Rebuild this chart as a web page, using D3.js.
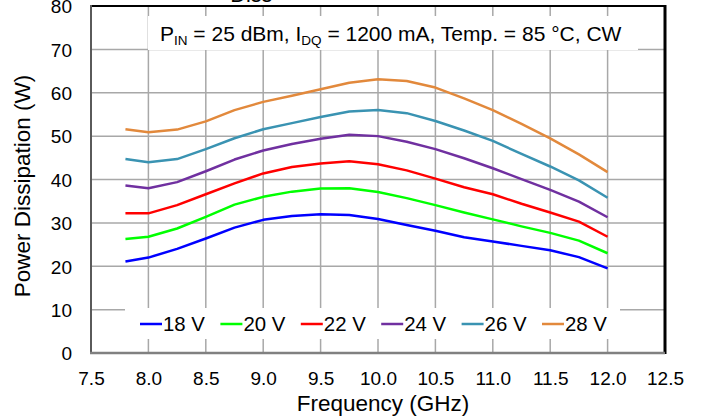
<!DOCTYPE html>
<html><head><meta charset="utf-8">
<script src="https://cdn.jsdelivr.net/npm/d3@7"></script>
<style>
html,body{margin:0;padding:0;background:#fff;}
svg{display:block;font-family:"Liberation Sans",Arial,sans-serif;}
</style></head>
<body><svg id="c" width="703" height="419"></svg>
<script>
const freqs = [7.8, 8.0, 8.25, 8.5, 8.75, 9.0, 9.25, 9.5, 9.75, 10.0, 10.25, 10.5, 10.75, 11.0, 11.25, 11.5, 11.75, 12.0];
const v18 = [21.1, 22.0, 24.0, 26.4, 28.9, 30.7, 31.6, 32.0, 31.8, 30.9, 29.5, 28.2, 26.7, 25.7, 24.7, 23.7, 22.1, 19.5];
const v20 = [26.3, 26.8, 28.7, 31.4, 34.2, 36.0, 37.2, 37.9, 38.0, 37.1, 35.7, 34.1, 32.4, 30.8, 29.2, 27.7, 25.9, 23.0];
const v22 = [32.2, 32.2, 34.1, 36.6, 39.1, 41.4, 42.9, 43.7, 44.2, 43.5, 42.1, 40.2, 38.2, 36.6, 34.4, 32.4, 30.3, 26.8];
const v24 = [38.6, 38.0, 39.4, 41.9, 44.6, 46.7, 48.2, 49.4, 50.3, 50.0, 48.7, 47.0, 44.9, 42.6, 40.1, 37.6, 34.9, 31.3];
const v26 = [44.7, 44.0, 44.7, 47.0, 49.5, 51.6, 53.0, 54.4, 55.7, 56.0, 55.3, 53.5, 51.3, 48.9, 45.9, 43.0, 39.8, 35.8];
const v28 = [51.6, 50.9, 51.5, 53.4, 56.0, 57.9, 59.3, 60.8, 62.3, 63.1, 62.7, 61.2, 58.7, 56.0, 52.8, 49.5, 45.8, 41.7];
const seriesNames = ["18 V", "20 V", "22 V", "24 V", "26 V", "28 V"];
const seriesValues = [v18, v20, v22, v24, v26, v28];
const seriesColors = ["#0000FF", "#00FF00", "#FF0000", "#7030A0", "#3A93B2", "#E2893C"];
const xTicks = [7.5, 8.0, 8.5, 9.0, 9.5, 10.0, 10.5, 11.0, 11.5, 12.0, 12.5];
const yTicks = [0, 10, 20, 30, 40, 50, 60, 70, 80];

const svg = d3.select("#c");
const L = 91, R = 665, T = 6, B = 353;
const x = d3.scaleLinear().domain([7.5, 12.5]).range([L, R]);
const y = d3.scaleLinear().domain([0, 80]).range([B, T]);

// grid
const g = svg.append("g");
g.selectAll("line.vx").data(xTicks.slice(1, -1)).join("line")
  .attr("x1", d => x(d)).attr("x2", d => x(d)).attr("y1", T).attr("y2", B)
  .attr("stroke", "#A8A8A8").attr("stroke-width", 1.5);
g.selectAll("line.hy").data(yTicks.slice(1, -1)).join("line")
  .attr("x1", L).attr("x2", R).attr("y1", d => y(d)).attr("y2", d => y(d))
  .attr("stroke", "#A8A8A8").attr("stroke-width", 1.5);

// cut-off title at top
const title = svg.append("text").attr("x", 213).attr("y", -5)
  .attr("font-size", 26).attr("fill", "#000");
title.append("tspan").text("P");
title.append("tspan").attr("font-size", 21.6).attr("dy", 6.5).text("Diss");
title.append("tspan").attr("dy", -6.5).attr("dx", 28).text(" vs. Frequency");

// annotation box
svg.append("rect").attr("x", 148).attr("y", 16).attr("width", 490).attr("height", 34).attr("fill", "#fff");
const ann = svg.append("text").attr("x", 160).attr("y", 41).attr("font-size", 21).attr("fill", "#000");
ann.append("tspan").text("P");
ann.append("tspan").attr("font-size", 13.5).attr("dy", 4).text("IN");
ann.append("tspan").attr("dy", -4).text(" = 25 dBm, I");
ann.append("tspan").attr("font-size", 13.5).attr("dy", 4).text("DQ");
ann.append("tspan").attr("dy", -4).text(" = 1200 mA, Temp. = 85 °C, CW");

// legend box
svg.append("rect").attr("x", 125).attr("y", 308).attr("width", 495).attr("height", 31).attr("fill", "#fff");
const lg = svg.append("g");
seriesNames.forEach((n, i) => {
  const x0 = 140 + i * 80.4;
  lg.append("line").attr("x1", x0).attr("x2", x0 + 22).attr("y1", 324).attr("y2", 324)
    .attr("stroke", seriesColors[i]).attr("stroke-width", 2.5);
  lg.append("text").attr("x", x0 + 23).attr("y", 331).attr("font-size", 20.4).attr("fill", "#000").text(n);
});

// lines
const line = d3.line().x((d, i) => x(freqs[i])).y(d => y(d));
svg.append("g").selectAll("path").data(seriesValues).join("path")
  .attr("d", d => line(d)).attr("fill", "none")
  .attr("stroke", (d, i) => seriesColors[i]).attr("stroke-width", 2.5)
  .attr("stroke-linejoin", "round");

// frame
svg.append("line").attr("x1", L).attr("x2", R).attr("y1", T).attr("y2", T).attr("stroke", "#000").attr("stroke-width", 2);
svg.append("line").attr("x1", R).attr("x2", R).attr("y1", T - 1).attr("y2", B + 1).attr("stroke", "#000").attr("stroke-width", 3);
svg.append("line").attr("x1", L).attr("x2", L).attr("y1", T - 1).attr("y2", B + 1).attr("stroke", "#5a5a5a").attr("stroke-width", 2);
svg.append("line").attr("x1", L - 1).attr("x2", R).attr("y1", B).attr("y2", B).attr("stroke", "#808080").attr("stroke-width", 2.5);

// axes labels using d3 axes (no domain/ticks lines)
const xAxis = svg.append("g").attr("transform", `translate(0,${B})`)
  .call(d3.axisBottom(x).tickValues(xTicks).tickFormat(d3.format(".1f")).tickSize(0).tickPadding(19));
const yAxis = svg.append("g").attr("transform", `translate(${L},0)`)
  .call(d3.axisLeft(y).tickValues(yTicks).tickFormat(d3.format("d")).tickSize(0).tickPadding(19));
[xAxis, yAxis].forEach(a => {
  a.select(".domain").remove();
  a.selectAll("text").attr("font-size", 19).attr("fill", "#000")
    .attr("font-family", "'Liberation Sans',Arial,sans-serif");
});
yAxis.selectAll("text").attr("dy", "0.36em");

svg.append("text").attr("x", (L + R) / 2 + 5).attr("y", 411).attr("text-anchor", "middle")
  .attr("font-size", 22.5).attr("fill", "#000").text("Frequency (GHz)");
svg.append("text").attr("transform", "translate(30,186) rotate(-90)").attr("text-anchor", "middle")
  .attr("font-size", 22.5).attr("fill", "#000").text("Power Dissipation (W)");
</script></body></html>
